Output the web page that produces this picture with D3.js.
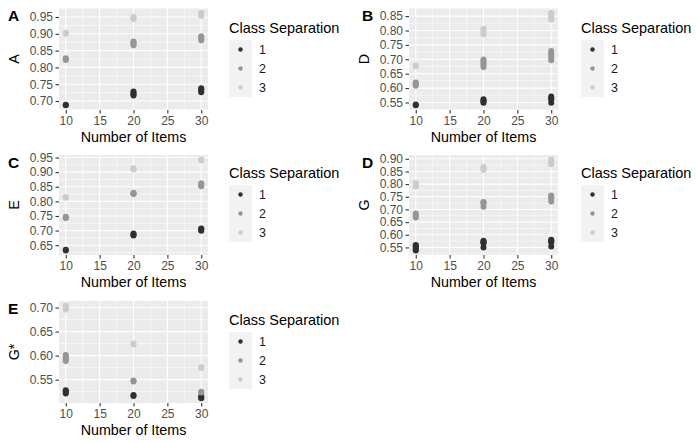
<!DOCTYPE html>
<html><head><meta charset="utf-8">
<script src="https://cdn.jsdelivr.net/npm/d3@7"></script>
<style>body{margin:0;background:#fff}svg{display:block;font-family:"Liberation Sans",Arial,sans-serif}</style>
</head><body><svg id="c" width="698" height="443"></svg>
<script>
// ---- data ----
const nItems = [10, 20, 30];
const classSep = ["1", "2", "3"];
const classColors = ["#303030", "#969696", "#CCCCCC"];
const xTicks = [10, 15, 20, 25, 30];
const panelTags = ["A", "B", "C", "D", "E"];
const measureNames = ["A", "D", "E", "G", "G*"];
const legendTitle = "Class Separation";
const xTitle = "Number of Items";

// values[class][nItems index] = replicate values
const valuesA = [
  [[0.687,0.689],[0.716,0.720,0.724,0.728],[0.726,0.730,0.734,0.738]],
  [[0.822,0.825,0.827],[0.866,0.870,0.874,0.877],[0.881,0.885,0.889,0.893]],
  [[0.900,0.902,0.903],[0.944,0.947,0.951],[0.954,0.958,0.963]]
];
const valuesD = [
  [[0.540,0.543],[0.549,0.553,0.557,0.561],[0.549,0.560,0.565,0.571]],
  [[0.608,0.612,0.616,0.619],[0.673,0.680,0.687,0.693,0.699],[0.697,0.706,0.715,0.721,0.729]],
  [[0.676,0.678],[0.786,0.792,0.799,0.806],[0.837,0.843,0.850,0.856,0.862]]
];
const valuesE = [
  [[0.632,0.634],[0.683,0.686,0.690],[0.699,0.702,0.705,0.707]],
  [[0.743,0.745,0.747],[0.825,0.827,0.829],[0.852,0.856,0.859,0.862]],
  [[0.812,0.815],[0.909,0.911,0.913],[0.940,0.943]]
];
const valuesG = [
  [[0.538,0.543,0.548,0.553,0.557,0.560],[0.550,0.566,0.570,0.573,0.576],[0.554,0.570,0.574,0.577,0.580]],
  [[0.668,0.673,0.678,0.684],[0.711,0.724,0.727,0.729],[0.731,0.744,0.748,0.752,0.755]],
  [[0.791,0.795,0.799,0.803],[0.856,0.860,0.864,0.868],[0.878,0.884,0.890,0.897]]
];
const valuesGstar = [
  [[0.521,0.524,0.526,0.528],[0.516,0.518],[0.511,0.513,0.516]],
  [[0.589,0.592,0.595,0.598,0.601],[0.546,0.548],[0.523,0.525]],
  [[0.696,0.699,0.702,0.704],[0.623,0.625],[0.574,0.576]]
];
const ticksA = [0.70,0.75,0.80,0.85,0.90,0.95];
const ticksD = [0.55,0.60,0.65,0.70,0.75,0.80,0.85];
const ticksE = [0.65,0.70,0.75,0.80,0.85,0.90,0.95];
const ticksG = [0.55,0.60,0.65,0.70,0.75,0.80,0.85,0.90];
const ticksGstar = [0.55,0.60,0.65,0.70];

const panelValues = [valuesA, valuesD, valuesE, valuesG, valuesGstar];
const panelTicks = [ticksA, ticksD, ticksE, ticksG, ticksGstar];

// ---- layout ----
const colX = [[59, 208], [409, 558]];
const rowY = [[8, 110], [155, 255], [301, 403]];
const legendBaseline = [33, 178, 325];
const legendX = [229, 581];
const tagX = [8, 362];

const svg = d3.select("#c");

panelTags.forEach((tag, i) => {
  const col = i % 2, row = Math.floor(i / 2);
  const [x0, x1] = colX[col], [y0, y1] = rowY[row];
  const vals = panelValues[i];
  const all = vals.flat(2);
  const ext = d3.extent(all);
  const pad = (ext[1] - ext[0]) * 0.05;
  const x = d3.scaleLinear().domain([9, 31]).range([x0, x1]);
  const y = d3.scaleLinear().domain([ext[0] - pad, ext[1] + pad]).range([y1, y0]);
  const g = svg.append("g");

  g.append("rect").attr("x", x0).attr("y", y0).attr("width", x1 - x0).attr("height", y1 - y0).attr("fill", "#EBEBEB");
  const ticks = panelTicks[i];
  const yMinor = [ticks[0] - 0.025, ...ticks.map(t => t + 0.025)].filter(v => v > y.domain()[0] && v < y.domain()[1]);
  const xMinor = [12.5, 17.5, 22.5, 27.5];
  g.selectAll(".ym").data(yMinor).join("line").attr("x1", x0).attr("x2", x1)
    .attr("y1", d => y(d)).attr("y2", d => y(d)).attr("stroke", "#fff").attr("stroke-width", 0.55);
  g.selectAll(".xm").data(xMinor).join("line").attr("y1", y0).attr("y2", y1)
    .attr("x1", d => x(d)).attr("x2", d => x(d)).attr("stroke", "#fff").attr("stroke-width", 0.55);
  g.selectAll(".yM").data(ticks).join("line").attr("x1", x0).attr("x2", x1)
    .attr("y1", d => y(d)).attr("y2", d => y(d)).attr("stroke", "#fff").attr("stroke-width", 1.1);
  g.selectAll(".xM").data(xTicks).join("line").attr("y1", y0).attr("y2", y1)
    .attr("x1", d => x(d)).attr("x2", d => x(d)).attr("stroke", "#fff").attr("stroke-width", 1.1);

  const pts = [];
  vals.forEach((cls, ci) => cls.forEach((grp, ni) => grp.forEach(v => pts.push({c: ci, n: nItems[ni], v}))));
  g.selectAll(".pt").data(pts).join("circle")
    .attr("cx", d => x(d.n)).attr("cy", d => y(d.v)).attr("r", 3)
    .attr("fill", d => classColors[d.c]);

  const ax = g.append("g").attr("transform", `translate(0,${y1})`)
    .call(d3.axisBottom(x).tickValues(xTicks).tickSize(3.5).tickPadding(2.5).tickFormat(d3.format("d")));
  const ay = g.append("g").attr("transform", `translate(${x0},0)`)
    .call(d3.axisLeft(y).tickValues(ticks).tickSize(3.5).tickPadding(2.5).tickFormat(d3.format(".2f")));
  [ax, ay].forEach(a => {
    a.select(".domain").remove();
    a.selectAll(".tick line").attr("stroke", "#333333").attr("stroke-width", 1.1);
    a.selectAll(".tick text").attr("fill", "#4D4D4D").attr("font-size", 12).attr("font-family", "Liberation Sans, Arial, sans-serif");
  });

  g.append("text").attr("x", (x0 + x1) / 2).attr("y", y1 + 32).attr("text-anchor", "middle")
    .attr("font-size", 14.3).attr("fill", "#000").text(xTitle);
  g.append("text").attr("transform", `translate(${x0 - 40},${(y0 + y1) / 2}) rotate(-90)`)
    .attr("text-anchor", "middle").attr("font-size", 14.3).attr("fill", "#000").text(measureNames[i]);
  g.append("text").attr("x", tagX[col]).attr("y", y0 + 13).attr("font-size", 15.5)
    .attr("font-weight", "bold").attr("fill", "#000").text(tag);

  const lx = legendX[col], lb = legendBaseline[row];
  const lg = g.append("g");
  lg.append("text").attr("x", lx).attr("y", lb).attr("font-size", 14.5).attr("fill", "#000").text(legendTitle);
  const kTop = lb + 7, kh = 19;
  lg.append("rect").attr("x", lx).attr("y", kTop).attr("width", 23).attr("height", kh * 3).attr("fill", "#F2F2F2");
  classSep.forEach((c, ci) => {
    lg.append("circle").attr("cx", lx + 11.5).attr("cy", kTop + kh * ci + kh / 2).attr("r", 2.2).attr("fill", classColors[ci]);
    lg.append("text").attr("x", lx + 30).attr("y", kTop + kh * ci + kh / 2 + 4.5)
      .attr("font-size", 12.5).attr("fill", "#1a1a1a").text(c);
  });
});
</script></body></html>
